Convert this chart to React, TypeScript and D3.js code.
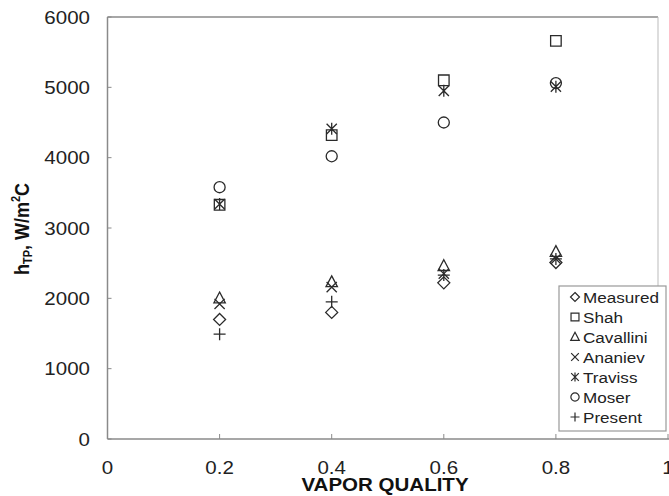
import React from "react";
import * as d3 from "d3";

const qualities = [0.2, 0.4, 0.6, 0.8];
const measured = [1700, 1800, 2220, 2510];
const shah = [3330, 4320, 5100, 5660];
const cavallini = [2000, 2230, 2460, 2660];
const ananiev = [1920, 2160, 2350, 2560];
const traviss = [3340, 4410, 4950, 5010];
const moser = [3580, 4020, 4500, 5060];
const present = [1490, 1950, 2330, 2560];

const xTicks = [0, 0.2, 0.4, 0.6, 0.8, 1];
const yTicks = [0, 1000, 2000, 3000, 4000, 5000, 6000];

type Shape = "diamond" | "square" | "triangle" | "times" | "star" | "circle" | "plus";

const seriesList: { name: string; values: number[]; shape: Shape }[] = [
  { name: "Measured", values: measured, shape: "diamond" },
  { name: "Shah", values: shah, shape: "square" },
  { name: "Cavallini", values: cavallini, shape: "triangle" },
  { name: "Ananiev", values: ananiev, shape: "times" },
  { name: "Traviss", values: traviss, shape: "star" },
  { name: "Moser", values: moser, shape: "circle" },
  { name: "Present", values: present, shape: "plus" },
];

const symbolTypes: Record<Shape, d3.SymbolType> = {
  diamond: {
    draw(c, r) {
      c.moveTo(0, -r);
      c.lineTo(r, 0);
      c.lineTo(0, r);
      c.lineTo(-r, 0);
      c.closePath();
    },
  },
  square: {
    draw(c, r) {
      const h = r * 0.88;
      c.moveTo(-h, -h);
      c.lineTo(h, -h);
      c.lineTo(h, h);
      c.lineTo(-h, h);
      c.closePath();
    },
  },
  triangle: {
    draw(c, r) {
      c.moveTo(0, -r * 1.05);
      c.lineTo(r * 0.95, r * 0.75);
      c.lineTo(-r * 0.95, r * 0.75);
      c.closePath();
    },
  },
  times: {
    draw(c, r) {
      const h = r * 0.85;
      c.moveTo(-h, -h);
      c.lineTo(h, h);
      c.moveTo(h, -h);
      c.lineTo(-h, h);
    },
  },
  star: {
    draw(c, r) {
      const h = r * 0.85;
      c.moveTo(-h, -h);
      c.lineTo(h, h);
      c.moveTo(h, -h);
      c.lineTo(-h, h);
      c.moveTo(0, -r);
      c.lineTo(0, r);
    },
  },
  circle: {
    draw(c, r) {
      const rr = r * 0.92;
      c.moveTo(rr, 0);
      c.arc(0, 0, rr, 0, Math.PI * 2);
    },
  },
  plus: {
    draw(c, r) {
      c.moveTo(-r, 0);
      c.lineTo(r, 0);
      c.moveTo(0, -r);
      c.lineTo(0, r);
    },
  },
};

const W = 669;
const H = 496;
const left = 107.5;
const xEnd = 668;
const top = 17;
const bottom = 439;
const boxRight = 658;
const SX = 1.14;

export default function App() {
  const x = d3.scaleLinear().domain([0, 1]).range([left, xEnd]);
  const y = d3.scaleLinear().domain([0, 6000]).range([bottom, top]);
  const font = "'Liberation Sans', Arial, sans-serif";
  const ink = "#2a2a2a";
  const axisColor = "#8a8a8a";

  const legendX = 559;
  const legendY = 286;
  const legendW = 107;
  const legendH = 145;

  return (
    <svg
      width={W}
      height={H}
      style={{ position: "absolute", left: 0, top: 0, background: "#fff" }}
      fontFamily={font}
    >
      <rect x={0} y={0} width={W} height={H} fill="#fff" />
      {/* plot frame */}
      <line x1={left} y1={top} x2={boxRight} y2={top} stroke={axisColor} strokeWidth={1.5} />
      <line x1={boxRight} y1={top} x2={boxRight} y2={legendY} stroke="#bbb" strokeWidth={1} />
      <line x1={left} y1={top} x2={left} y2={bottom} stroke={axisColor} strokeWidth={1.5} />
      <line x1={left} y1={bottom} x2={W} y2={bottom} stroke={axisColor} strokeWidth={1.5} />

      {/* y ticks */}
      {yTicks.map((t) => (
        <g key={"y" + t}>
          <line x1={left} x2={left + 4} y1={y(t)} y2={y(t)} stroke={axisColor} strokeWidth={1} />
          <text
            transform={`translate(90, ${y(t) + 6.5}) scale(${SX},1)`}
            textAnchor="end"
            fontSize={18}
            fill="#222"
          >
            {t}
          </text>
        </g>
      ))}
      {/* x ticks */}
      {xTicks.map((t) => (
        <g key={"x" + t}>
          <line x1={x(t)} x2={x(t)} y1={bottom} y2={bottom - 5} stroke={axisColor} strokeWidth={1} />
          <text
            transform={`translate(${x(t)}, 473.5) scale(${SX},1)`}
            textAnchor="middle"
            fontSize={18}
            fill="#222"
          >
            {t}
          </text>
        </g>
      ))}

      {/* axis titles */}
      <text
        transform={`translate(385, 491) scale(${SX},1)`}
        textAnchor="middle"
        fontSize={18}
        fontWeight="bold"
        fill="#111"
      >
        VAPOR QUALITY
      </text>
      <text
        transform={`translate(29, 229) rotate(-90) scale(1, ${SX})`}
        textAnchor="middle"
        fontSize={18}
        fontWeight="bold"
        fill="#111"
      >
        h<tspan fontSize={11} dy={3}>TP</tspan>
        <tspan dy={-3}>, W/m</tspan>
        <tspan fontSize={11} dy={-8}>2</tspan>
        <tspan dy={8}>C</tspan>
      </text>

      {/* points */}
      {seriesList.map((s) => {
        const gen = d3.symbol().type(symbolTypes[s.shape]).size(6);
        return (
          <g key={s.name}>
            {s.values.map((v, i) => (
              <path
                key={i}
                d={gen() as string}
                transform={`translate(${x(qualities[i])}, ${y(v)})`}
                fill="none"
                stroke={ink}
                strokeWidth={1.3}
              />
            ))}
          </g>
        );
      })}

      {/* legend */}
      <rect x={legendX} y={legendY} width={legendW} height={legendH} fill="#fff" stroke="#999" strokeWidth={1.2} />
      {seriesList.map((s, i) => {
        const gen = d3.symbol().type(symbolTypes[s.shape]).size(4.5);
        const cy = legendY + 11 + i * 20;
        return (
          <g key={"lg" + s.name}>
            <path d={gen() as string} transform={`translate(${legendX + 16}, ${cy})`} fill="none" stroke={ink} strokeWidth={1.2} />
            <text
              transform={`translate(${legendX + 24}, ${cy + 5.5}) scale(${SX},1)`}
              fontSize={15}
              fill="#222"
            >
              {s.name}
            </text>
          </g>
        );
      })}
    </svg>
  );
}
